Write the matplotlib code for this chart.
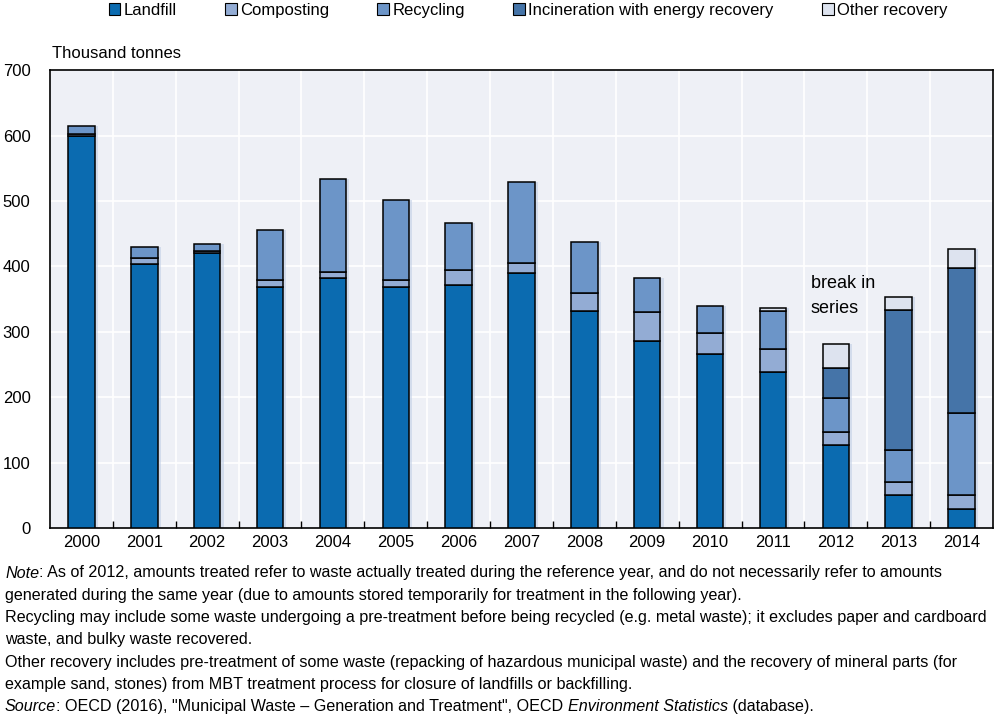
import matplotlib
matplotlib.use("Agg")
import matplotlib.pyplot as plt
from matplotlib.patches import Patch
import numpy as np

years = [str(y) for y in range(2000, 2015)]
landfill = [600, 403, 420, 369, 382, 368, 371, 390, 332, 286, 266, 238, 127, 51, 29]
composting = [2, 10, 3, 10, 9, 12, 24, 16, 28, 44, 32, 35, 20, 20, 22]
recycling = [13, 17, 11, 77, 143, 122, 71, 123, 78, 52, 41, 59, 52, 48, 125]
incineration = [0, 0, 0, 0, 0, 0, 0, 0, 0, 0, 0, 0, 46, 215, 221]
other = [0, 0, 0, 0, 0, 0, 0, 0, 0, 0, 0, 5, 37, 20, 29]

series = [
    ("Landfill", landfill, "#0b6bb0"),
    ("Composting", composting, "#93acd4"),
    ("Recycling", recycling, "#6c95c8"),
    ("Incineration with energy recovery", incineration, "#4574a8"),
    ("Other recovery", other, "#dde3ef"),
]

plt.rcParams['font.family'] = ['Liberation Sans', 'DejaVu Sans']
plt.rcParams['font.size'] = 12

fig = plt.figure(figsize=(10, 7.22), dpi=100)
ax = fig.add_axes([0.05, 0.2687, 0.943, 0.634])
ax.set_facecolor("#eef0f6")

x = np.arange(len(years))
w = 0.42

# soft shadow behind the bars
totals = np.sum([s[1] for s in series], axis=0)
ax.bar(x + 0.025, totals, width=w + 0.05, bottom=0, color="#c2d0e6", alpha=0.6, zorder=2, linewidth=0)

bottom = np.zeros(len(years))
for name, vals, col in series:
    vals = np.array(vals, dtype=float)
    mask = vals > 0
    ax.bar(x[mask], vals[mask], width=w, bottom=bottom[mask], color=col,
           edgecolor="black", linewidth=1.1, zorder=3)
    bottom += vals

ax.set_xlim(-0.5, len(years) - 0.5)
ax.set_ylim(0, 700)
ax.set_yticks(range(0, 701, 100))
ax.set_xticks(x)
ax.set_xticklabels(years)
ax.set_xticks(np.arange(0.5, len(years) - 1, 1), minor=True)
ax.tick_params(axis='x', which='major', length=0, pad=5, labelsize=12)
ax.tick_params(axis='x', which='minor', length=5, direction='in', width=1)
ax.tick_params(axis='y', length=0, pad=14, labelsize=12)

for yv in range(100, 700, 100):
    ax.axhline(yv, color="white", linewidth=1.2, zorder=1)
for xv in np.arange(0.5, len(years) - 1, 1):
    ax.axvline(xv, color="white", linewidth=1.2, zorder=1)

for sp in ax.spines.values():
    sp.set_color("black")
    sp.set_linewidth(1.2)

ax.text(11.6, 374, "break in", fontsize=13, va='center', ha='left', zorder=5)
ax.text(11.6, 336, "series", fontsize=13, va='center', ha='left', zorder=5)

fig.text(0.052, 0.926, "Thousand tonnes", fontsize=12, va='center', ha='left')

handles = [Patch(facecolor=c, edgecolor="black", linewidth=0.8) for _, _, c in series]
labels = [n for n, _, _ in series]
fig.legend(handles, labels, loc='center', bbox_to_anchor=(0.528, 0.986), ncol=5,
           frameon=False, fontsize=12, handlelength=0.7, handleheight=0.7,
           handletextpad=0.2, columnspacing=2.9)

# notes with italic runs
renderer = fig.canvas.get_renderer()

def runs(y, parts):
    xp = 0.005
    for s, st in parts:
        t = fig.text(xp, y, s, style=st, fontsize=11.6, va='center', ha='left')
        bb = t.get_window_extent(renderer=renderer)
        xp += bb.width / fig.bbox.width

lines = [
    [("Note", "italic"), (": As of 2012, amounts treated refer to waste actually treated during the reference year, and do not necessarily refer to amounts", "normal")],
    [("generated during the same year (due to amounts stored temporarily for treatment in the following year).", "normal")],
    [("Recycling may include some waste undergoing a pre-treatment before being recycled (e.g. metal waste); it excludes paper and cardboard", "normal")],
    [("waste, and bulky waste recovered.", "normal")],
    [("Other recovery includes pre-treatment of some waste (repacking of hazardous municipal waste) and the recovery of mineral parts (for", "normal")],
    [("example sand, stones) from MBT treatment process for closure of landfills or backfilling.", "normal")],
    [("Source", "italic"), (": OECD (2016), \"Municipal Waste \u2013 Generation and Treatment\", OECD ", "normal"),
     ("Environment Statistics", "italic"), (" (database).", "normal")],
]
y0 = 573
for i, parts in enumerate(lines):
    runs(1 - (y0 + i * 22.3) / 722, parts)

fig.savefig("out.png", dpi=100)
